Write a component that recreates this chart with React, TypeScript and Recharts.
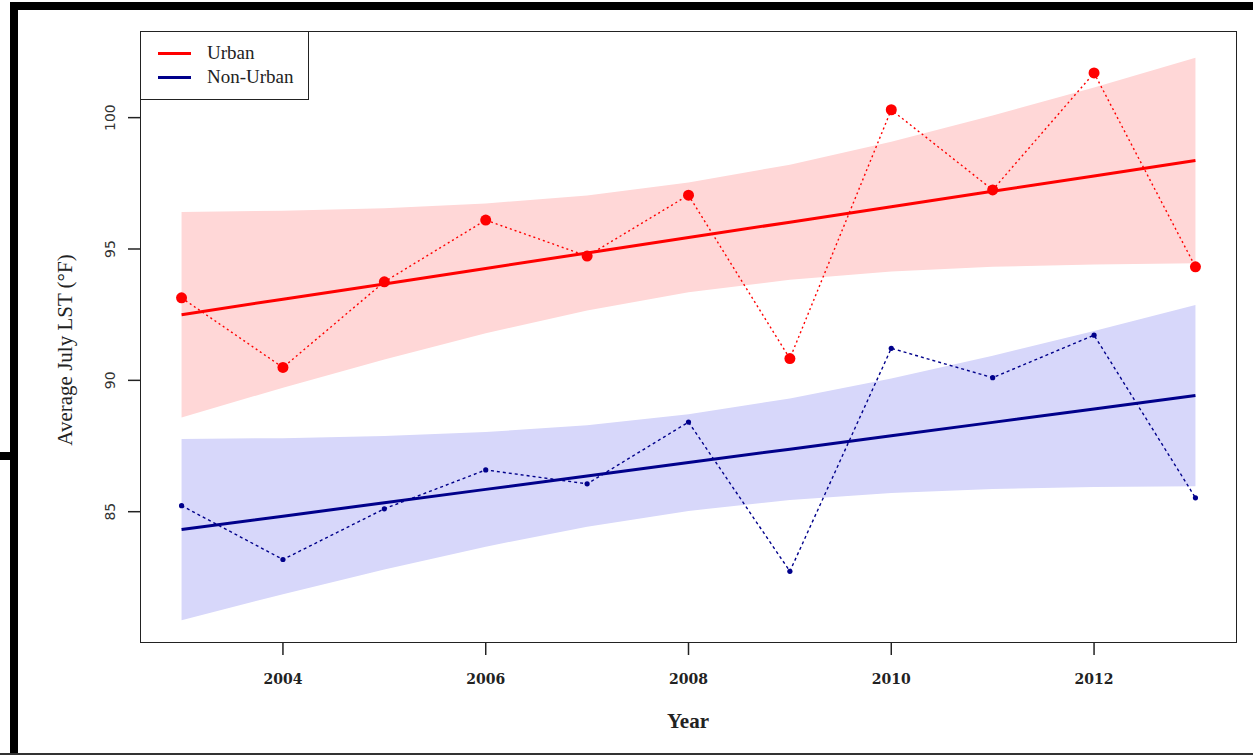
import React from 'react';
import { ComposedChart, Area, Line, XAxis, YAxis } from 'recharts';

// values
const years = [2003, 2004, 2005, 2006, 2007, 2008, 2009, 2010, 2011, 2012, 2013];
const urbanLST = [93.14, 90.49, 93.75, 96.1, 94.73, 97.05, 90.83, 100.3, 97.25, 101.7, 94.32];
const nonUrbanLST = [85.23, 83.18, 85.11, 86.59, 86.06, 88.41, 82.73, 91.22, 90.1, 91.72, 85.53];
const urbanFit = [92.5, 93.09, 93.67, 94.26, 94.85, 95.44, 96.02, 96.61, 97.2, 97.78, 98.37];
const nonUrbanFit = [84.32, 84.83, 85.34, 85.85, 86.36, 86.87, 87.38, 87.89, 88.4, 88.91, 89.42];
const urbanLower = [88.59, 89.72, 90.79, 91.79, 92.66, 93.35, 93.83, 94.14, 94.32, 94.41, 94.46];
const urbanUpper = [96.41, 96.46, 96.55, 96.73, 97.04, 97.53, 98.21, 99.08, 100.08, 101.15, 102.28];
const nonUrbanLower = [80.87, 81.86, 82.8, 83.67, 84.43, 85.03, 85.45, 85.71, 85.86, 85.94, 85.97];
const nonUrbanUpper = [87.77, 87.8, 87.88, 88.03, 88.29, 88.71, 89.31, 90.07, 90.94, 91.88, 92.87];

const xTicks = [2004, 2006, 2008, 2010, 2012];
const yTicks = [85, 90, 95, 100];

const RED = '#FF0000';
const NAVY = '#00008B';

const rows = years.map((year, i) => ({
  year,
  urban: urbanLST[i],
  nonUrban: nonUrbanLST[i],
  urbanFit: urbanFit[i],
  nonUrbanFit: nonUrbanFit[i],
  urbanBand: [urbanLower[i], urbanUpper[i]],
  nonUrbanBand: [nonUrbanLower[i], nonUrbanUpper[i]],
}));

const XTick = ({ x, y, payload }: any) => (
  <text x={x} y={y + 29} textAnchor="middle" fontFamily="DejaVu Serif" fontWeight="bold" fontSize={14} fill="#222">
    {payload.value}
  </text>
);

const YTick = ({ x, y, payload }: any) => (
  <text x={x - 13} y={y} transform={`rotate(-90, ${x - 13}, ${y})`} textAnchor="middle" fontFamily="DejaVu Sans" fontSize={14} fill="#333">
    {payload.value}
  </text>
);

const bar = (left: number, top: number, width: number, height: number, bg = '#000') => (
  <div style={{ position: 'absolute', left, top, width, height, background: bg }} />
);

export default function App() {
  return (
    <div style={{ position: 'absolute', left: 0, top: 0, width: 1253, height: 755, background: '#fff', overflow: 'hidden' }}>
      <ComposedChart width={1253} height={755} data={rows} margin={{ top: 32, right: 17, left: 81, bottom: 53 }}>
        <XAxis
          type="number"
          dataKey="year"
          domain={[2002.6, 2013.4]}
          ticks={xTicks}
          allowDataOverflow
          axisLine={false}
          tickSize={13}
          tickMargin={0}
          tickLine={{ stroke: '#222', strokeWidth: 1.5 }}
          tick={<XTick />}
          height={60}
        />
        <YAxis
          type="number"
          domain={[80.04, 103.26]}
          ticks={yTicks}
          allowDataOverflow
          axisLine={false}
          tickSize={13}
          tickMargin={0}
          tickLine={{ stroke: '#222', strokeWidth: 1.5 }}
          tick={<YTick />}
          width={60}
        />
        <Area dataKey="urbanBand" type="linear" stroke="none" fill="#FFD7D7" fillOpacity={1} isAnimationActive={false} activeDot={false} />
        <Area dataKey="nonUrbanBand" type="linear" stroke="none" fill="#D7D7FA" fillOpacity={1} isAnimationActive={false} activeDot={false} />
        <Line dataKey="urbanFit" type="linear" stroke={RED} strokeWidth={3} dot={false} activeDot={false} isAnimationActive={false} />
        <Line dataKey="nonUrbanFit" type="linear" stroke={NAVY} strokeWidth={3} dot={false} activeDot={false} isAnimationActive={false} />
        <Line
          dataKey="urban"
          type="linear"
          stroke={RED}
          strokeWidth={1.4}
          strokeDasharray="2 3"
          dot={{ r: 5.5, fill: RED, stroke: 'none' }}
          activeDot={false}
          isAnimationActive={false}
        />
        <Line
          dataKey="nonUrban"
          type="linear"
          stroke={NAVY}
          strokeWidth={1.4}
          strokeDasharray="3 3"
          dot={{ r: 2.6, fill: NAVY, stroke: 'none' }}
          activeDot={false}
          isAnimationActive={false}
        />
      </ComposedChart>

      {/* plot box */}
      <div style={{ position: 'absolute', left: 140, top: 31, width: 1095, height: 610, border: '1.5px solid #222', pointerEvents: 'none' }} />

      {/* legend */}
      <div style={{ position: 'absolute', left: 140, top: 31, width: 167, height: 67, border: '1.5px solid #222', background: '#fff', fontFamily: 'Liberation Serif', fontSize: 19, color: '#222' }}>
        <div style={{ position: 'absolute', left: 17, top: 20, width: 33, height: 2.5, background: RED }} />
        <div style={{ position: 'absolute', left: 17, top: 44, width: 33, height: 2.5, background: NAVY }} />
        <div style={{ position: 'absolute', left: 66, top: 10, lineHeight: '22px' }}>Urban</div>
        <div style={{ position: 'absolute', left: 66, top: 34, lineHeight: '22px' }}>Non-Urban</div>
      </div>

      {/* axis titles */}
      <div style={{ position: 'absolute', left: 65, top: 350, transform: 'translate(-50%, -50%) rotate(-90deg)', whiteSpace: 'nowrap', fontFamily: 'Liberation Serif', fontSize: 21, color: '#222' }}>
        Average July LST (°F)
      </div>
      <div style={{ position: 'absolute', left: 688, top: 721, transform: 'translate(-50%, -50%)', fontFamily: 'Liberation Serif', fontWeight: 'bold', fontSize: 21, color: '#222' }}>
        Year
      </div>

      {/* screenshot frame edges */}
      {bar(10, 2, 1243, 8)}
      {bar(10, 2, 8, 753)}
      {bar(0, 452, 10, 8)}
      {bar(0, 753, 1253, 2, '#333')}
    </div>
  );
}
